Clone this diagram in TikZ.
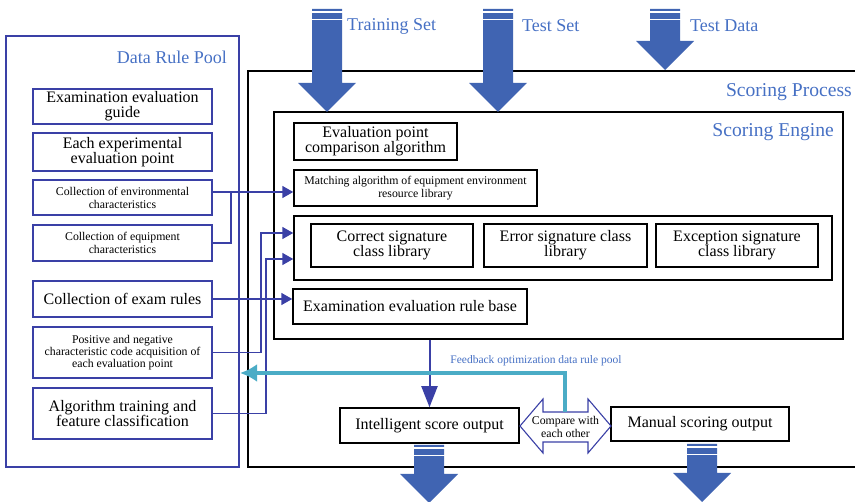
\documentclass[tikz,border=0pt]{standalone}
\usepackage{fontspec}
\setmainfont{Liberation Serif}
\usetikzlibrary{arrows.meta}
\definecolor{pblue}{RGB}{58,64,166}
\definecolor{tblue}{RGB}{70,112,196}
\definecolor{ablue}{RGB}{64,100,178}
\definecolor{fcyan}{RGB}{75,172,198}
\newcommand{\bigtxt}{\fontsize{16}{15}\selectfont}
\newcommand{\smtxt}{\fontsize{11.8}{13}\selectfont}
\newcommand{\ttltxt}{\fontsize{18}{20}\selectfont}
\newcommand{\blockarr}[4]{%
 \fill[ablue] (#1-15,#2) -- (#1+15,#2) -- (#1+15,#3) -- (#1+29,#3) -- (#1,#4) -- (#1-29,#3) -- (#1-15,#3) -- cycle;
 \draw[white, line width=1.3pt] (#1-16,#2+3) -- (#1+16,#2+3);
 \draw[white, line width=1.3pt] (#1-16,#2+10.3) -- (#1+16,#2+10.3);
}
\begin{document}
\begin{tikzpicture}[x=1pt,y=-1pt,
 pbox/.style={draw=pblue, line width=1.6pt, align=center, inner sep=0pt, font=\bigtxt, minimum width=179pt},
 ebox/.style={draw=black, line width=1.5pt, align=center, inner sep=0pt, font=\bigtxt},
 frame/.style={draw, line width=1.8pt, inner sep=0pt},
 conn/.style={draw=pblue, line width=1.7pt},
 arr/.style={conn, -{Triangle[length=11pt,width=12pt]}},
 ttl/.style={text=tblue, font=\ttltxt, inner sep=0pt},
 ttlb/.style={text=tblue, font=\fontsize{19.6}{21}\selectfont, inner sep=0pt},
]
\useasboundingbox (0,0) rectangle (855,502);
\clip (0,0) rectangle (855,502);

% frames
\node[frame, draw=pblue, line width=1.6pt, minimum width=233pt, minimum height=431pt] (pool) at (122.5,251.5) {};
\node[frame, minimum width=622pt, minimum height=396pt] (process) at (559,269) {};
\node[frame, line width=1.5pt, minimum width=569pt, minimum height=227pt] (engine) at (558.5,225.5) {};

\node[ttl, anchor=east] (tpool) at (227,57) {Data Rule Pool};
\node[ttlb, anchor=east] (tproc) at (852,92.5) {Scoring Process};
\node[ttlb, anchor=east] (teng) at (834,132.5) {Scoring Engine};

% rule pool boxes
\node[pbox, minimum height=35pt] (b1) at (122.5,106.5) {Examination evaluation\\guide};
\node[pbox, minimum height=38pt] (b2) at (122.5,152) {Each experimental\\evaluation point};
\node[pbox, minimum height=35pt, font=\smtxt] (b3) at (122.5,197.5) {Collection of environmental\\characteristics};
\node[pbox, minimum height=36pt, font=\smtxt] (b4) at (122.5,243) {Collection of equipment\\characteristics};
\node[pbox, minimum height=36pt] (b5) at (122.5,299) {Collection of exam rules};
\node[pbox, minimum height=51pt, font=\fontsize{11.8}{12.2}\selectfont] (b6) at (122.5,352.5) {Positive and negative\\characteristic code acquisition of\\each evaluation point};
\node[pbox, minimum height=51pt] (b7) at (122.5,413.5) {Algorithm training and\\feature classification};

% engine boxes
\node[ebox, minimum width=163pt, minimum height=37pt] (evalcmp) at (375.5,141.5) {Evaluation point\\comparison algorithm};
\node[ebox, minimum width=243pt, minimum height=36pt, font=\smtxt] (match) at (415.5,188) {Matching algorithm of equipment environment\\resource library};
\node[ebox, minimum width=538pt, minimum height=64pt] (sig) at (563,248) {};
\node[ebox, minimum width=162pt, minimum height=43pt] (correct) at (392,245.5) {Correct signature\\class library};
\node[ebox, minimum width=163pt, minimum height=43pt] (error) at (565.5,245.5) {Error signature class\\library};
\node[ebox, minimum width=162pt, minimum height=43pt] (except) at (737,245.5) {Exception signature\\class library};
\node[ebox, minimum width=234pt, minimum height=35pt] (rulebase) at (410,306.5) {Examination evaluation rule base};

% outputs
\node[ebox, minimum width=179pt, minimum height=35pt] (intel) at (429.5,425.5) {Intelligent score output};
\node[ebox, minimum width=178pt, minimum height=34pt] (manual) at (700,424) {Manual scoring output};

% compare double arrow
\draw[draw=pblue, line width=1.1pt, fill=white] (520,426) -- (543,399) -- (543,412) -- (588,412) -- (588,399) -- (611,426) -- (588,453) -- (588,442) -- (543,442) -- (543,453) -- cycle;
\node[font=\fontsize{11.8}{13}\selectfont, align=center, inner sep=0pt] (cmp) at (565.5,427) {Compare with\\each other};

% connectors
\coordinate (j) at (231,192);
\draw[arr] ([yshift=5.5pt]b3.east) -- ([yshift=5.5pt]b3.east -| match.west);
\draw[conn] (b4.east) -| (j);
\draw[arr] (b5.east) -- (b5.east -| rulebase.west);
\coordinate (s1) at ([yshift=15pt]sig.west);
\coordinate (s2) at ([yshift=-11pt]sig.west);
\draw[arr] (b6.east) -- ++(48,0) |- (s1);
\draw[arr] (b7.east) -- ++(53,0) |- (s2);
\draw[conn, line width=2pt, -{Triangle[length=21pt,width=16pt]}] (intel.north |- engine.south) -- (intel.north);

% feedback
\coordinate (cmptop) at (565,412);
\coordinate (fb) at (240,373);
\draw[fcyan, line width=4pt, -{Latex[length=17pt,width=18pt]}] (cmptop) |- (fb);
\node[text=tblue, font=\fontsize{11.5}{13}\selectfont, inner sep=0pt] (fbl) at (536,361) {Feedback optimization data rule pool};

% block arrows
\blockarr{327}{9}{83}{112}
\blockarr{498}{9}{83}{112}
\blockarr{665}{9}{41}{70}
\blockarr{429}{445}{474}{503}
\blockarr{702}{444}{473}{502}
\node[ttl, anchor=west] (ttrain) at (347,26) {Training Set};
\node[ttl, anchor=west] (ttest) at (522,26) {Test Set};
\node[ttl, anchor=west] (tdata) at (690,26) {Test Data};
\end{tikzpicture}
\end{document}
